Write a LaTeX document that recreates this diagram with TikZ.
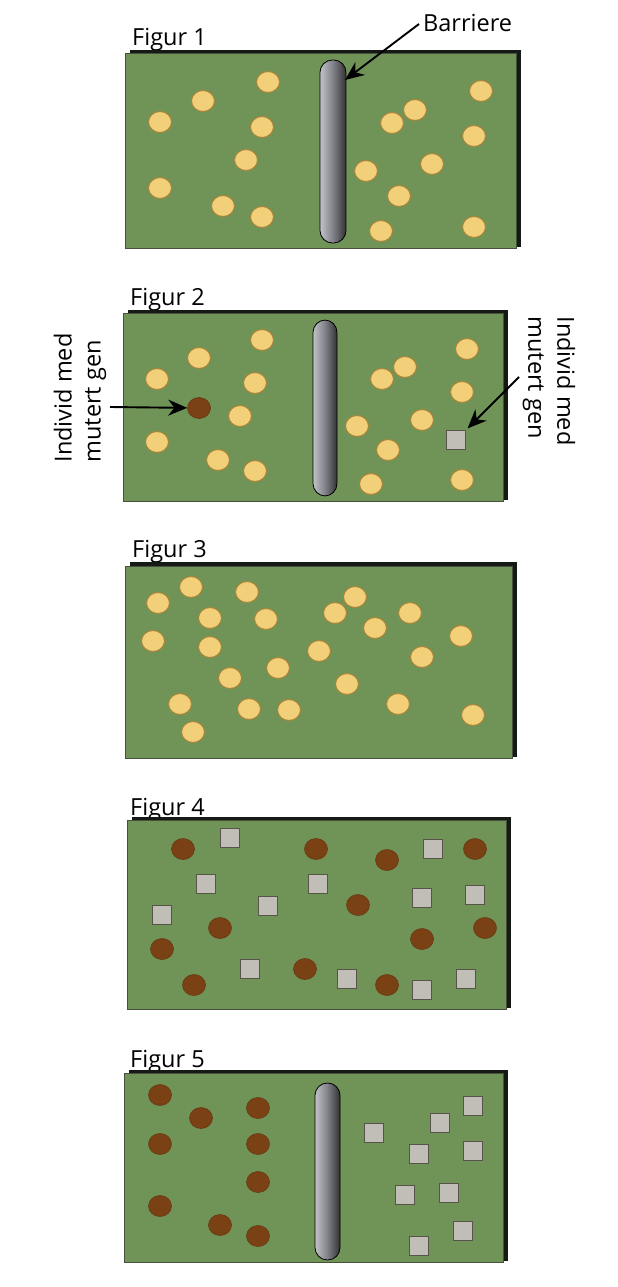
\documentclass[tikz,border=0pt]{standalone}
\usepackage{fontspec}
\setmainfont{Open Sans}
\usetikzlibrary{shapes.geometric,arrows.meta}
\definecolor{fieldgreen}{RGB}{112,148,88}
\definecolor{fieldedge}{RGB}{70,80,60}
\definecolor{shadowblack}{RGB}{22,26,20}
\definecolor{yelfill}{RGB}{242,208,122}
\definecolor{yeledge}{RGB}{170,132,56}
\definecolor{brownfill}{RGB}{122,66,20}
\definecolor{brownedge}{RGB}{105,56,18}
\definecolor{sqfill}{RGB}{192,190,182}
\definecolor{sqedge}{RGB}{88,84,74}
\definecolor{barA}{RGB}{150,150,158}
\definecolor{barB}{RGB}{228,228,234}
\definecolor{barC}{RGB}{128,128,136}
\definecolor{barD}{RGB}{18,18,18}
\pgfdeclarehorizontalshading{barriershade}{100bp}{color(0bp)=(barA); color(12bp)=(barB); color(50bp)=(barC); color(85bp)=(barD); color(100bp)=(barD)}
\begin{document}
\begin{tikzpicture}[x=1pt,y=-1pt,
  lbl/.style={font=\fontsize{23.5}{28}\selectfont, text=black, inner sep=0pt},
  rlbl/.style={font=\fontsize{23.5}{29}\selectfont, text=black, inner sep=0pt, align=left},
  field/.style={fill=fieldgreen, draw=fieldedge, line width=0.8pt},
  shadowbox/.style={fill=shadowblack},
  yel/.style={ellipse, fill=yelfill, draw=yeledge, line width=1pt, minimum width=23pt, minimum height=21pt, inner sep=0pt},
  brn/.style={ellipse, fill=brownfill, draw=brownedge, line width=0.6pt, minimum width=23pt, minimum height=21pt, inner sep=0pt},
  sq/.style={rectangle, fill=sqfill, draw=sqedge, line width=1.3pt, minimum size=19pt, inner sep=0pt},
  barrier/.style={shading=barriershade, draw=black, line width=0.8pt, rounded corners=12.4pt},
  arr/.style={line width=1.9pt, -{Stealth[length=19pt,width=16pt]}}
]
\useasboundingbox (0,0) rectangle (618,1287);

% ---------- Figur 1 ----------
\node[lbl, anchor=base west] (t1) at (132,46) {Figur 1};
\fill[shadowbox] (130,50) rectangle (521,247);
\draw[field] (125,53) rectangle (516,248);
\shade[barrier] (320,60) rectangle (346,243);
\foreach \p [count=\i] in {(268,82),(203,101),(160,122),(262,127),(246,160),(160,188),(223,206),(262,217),
  (481,91),(415,110),(392,123),(474,136),(432,164),(366,171),(399,196),(381,231),(474,227)}
  \node[yel] (fa\i) at \p {};
\node[lbl, anchor=base west] (barlbl) at (423,32) {Barriere};
\coordinate (barstart) at (419,24);
\coordinate (bartip) at (345,80);
\draw[arr] (barstart) -- (bartip);

% ---------- Figur 2 ----------
\node[lbl, anchor=base west] (t2) at (130,305) {Figur 2};
\fill[shadowbox] (128,310) rectangle (508,500);
\draw[field] (123,313) rectangle (503,501);
\shade[barrier] (313,320) rectangle (337,496);
\foreach \p [count=\i] in {(262,340),(199,358),(157,379),(255,383),(240,416),(157,442),(218,460),(255,471),
  (467,349),(405,367),(382,379),(462,392),(422,420),(357,426),(388,450),(371,484),(462,480)}
  \node[yel] (fb\i) at \p {};
\node[brn] (mutbrown) at (199,408) {};
\node[sq] (mutsq) at (456,440) {};
\node[rlbl, rotate=90] (mutL) at (80,398) {Individ med\\mutert gen};
\node[rlbl, rotate=-90] (mutR) at (549,381) {Individ med\\mutert gen};
\coordinate (aL) at (110,407);
\coordinate (aR) at (519,377);
\draw[arr] (aL) -- (mutbrown);
\draw[arr, shorten >=2pt] (aR) -- (mutsq);

% ---------- Figur 3 ----------
\node[lbl, anchor=base west] (t3) at (132,557) {Figur 3};
\fill[shadowbox] (130,562) rectangle (517,757);
\draw[field] (125,566) rectangle (512,758);
\foreach \p [count=\i] in {(191,587),(158,603),(247,592),(210,618),(266,619),(153,641),(210,647),(355,597),
  (335,613),(375,628),(410,613),(461,636),(319,651),(422,657),(278,668),(230,678),(347,684),(180,704),
  (249,709),(289,710),(398,704),(473,715),(193,732)}
  \node[yel] (fc\i) at \p {};

% ---------- Figur 4 ----------
\node[lbl, anchor=base west] (t4) at (130,815) {Figur 4};
\fill[shadowbox] (132,817) rectangle (511,1008);
\draw[field] (127,820) rectangle (506,1009);
\foreach \p [count=\i] in {(183,849),(316,849),(387,860),(475,849),(358,905),(220,928),(162,949),(422,939),
  (485,928),(305,969),(194,985),(387,985)}
  \node[brn] (fdb\i) at \p {};
\foreach \p [count=\i] in {(230,838),(433,849),(206,884),(318,884),(268,906),(422,898),(475,895),(162,915),
  (250,969),(347,979),(422,990),(466,979)}
  \node[sq] (fds\i) at \p {};

% ---------- Figur 5 ----------
\node[lbl, anchor=base west] (t5) at (130,1067) {Figur 5};
\fill[shadowbox] (129,1070) rectangle (508,1261);
\draw[field] (124,1073) rectangle (503,1262);
\shade[barrier] (315,1083) rectangle (340,1260);
\foreach \p [count=\i] in {(160,1095),(201,1118),(258,1108),(160,1144),(258,1144),(258,1182),(160,1206),(220,1225),(258,1236)}
  \node[brn] (feb\i) at \p {};
\foreach \p [count=\i] in {(473,1106),(440,1123),(374,1133),(419,1154),(473,1151),(405,1195),(449,1193),(463,1231),(419,1246)}
  \node[sq] (fes\i) at \p {};
\end{tikzpicture}
\end{document}
